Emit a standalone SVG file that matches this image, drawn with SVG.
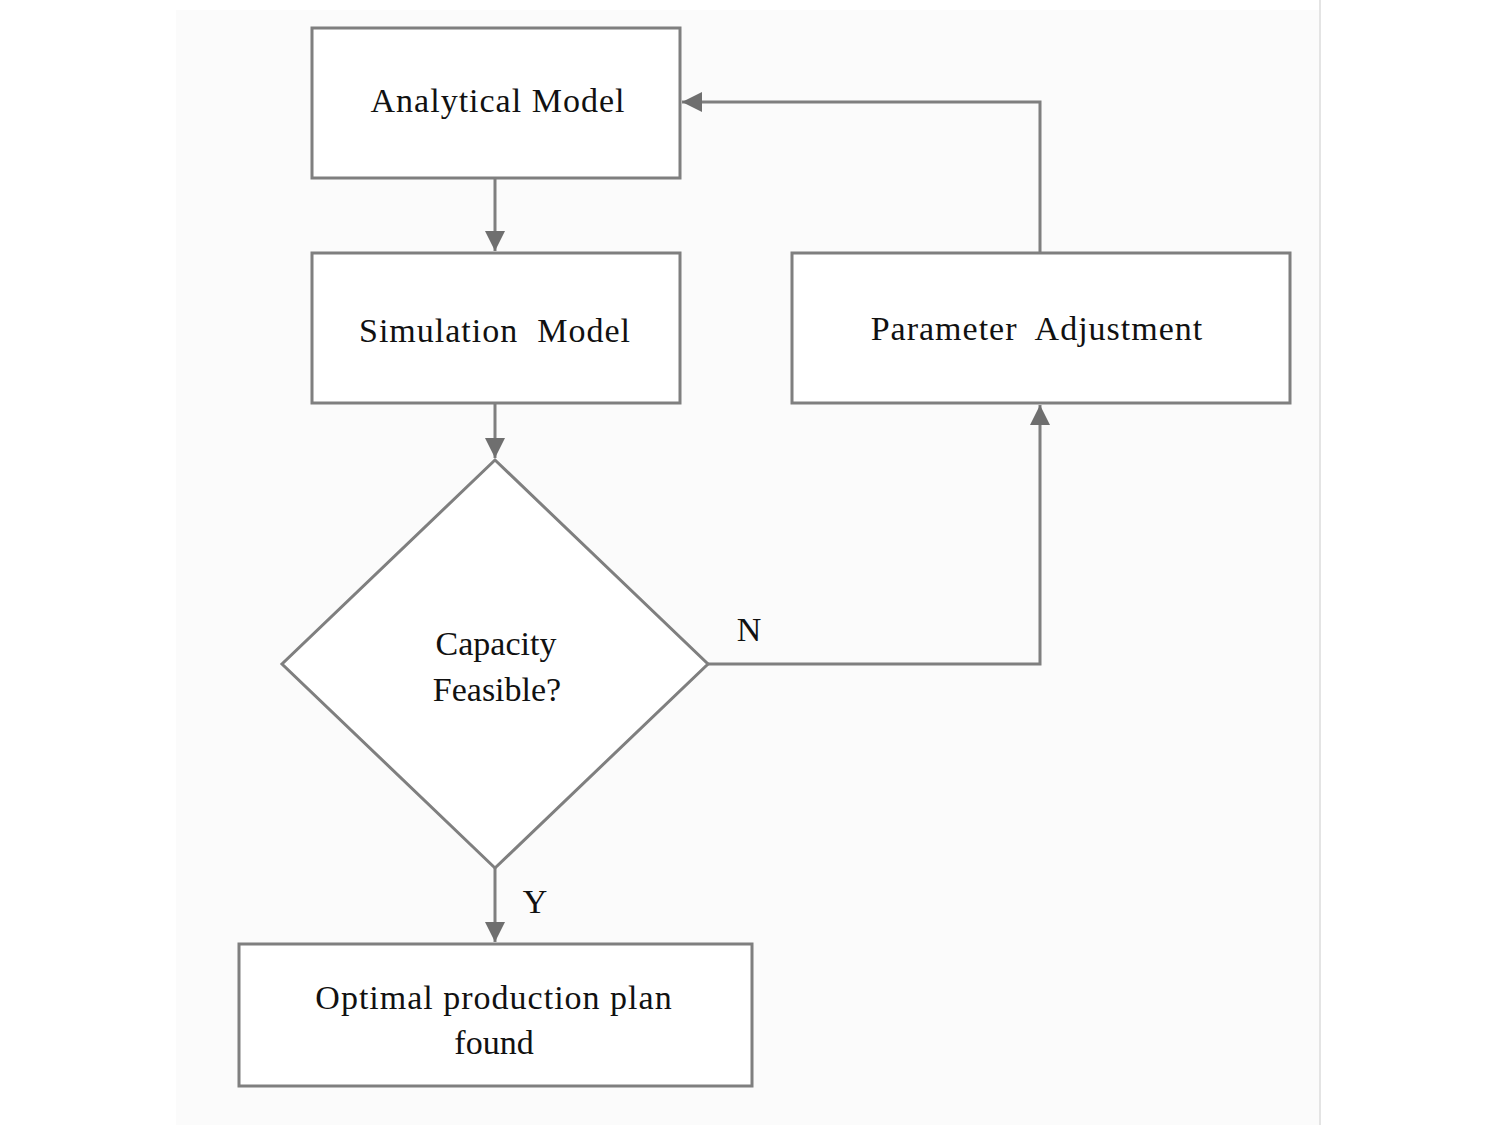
<svg xmlns="http://www.w3.org/2000/svg" width="1500" height="1125" viewBox="0 0 1500 1125">
<defs>
<style>
.box{fill:#ffffff;stroke:#7f7f7f;stroke-width:3}
.lbl{font-family:"Liberation Serif","Times New Roman",serif;font-size:34px;fill:#111;text-anchor:middle}
.con{fill:none;stroke:#7f7f7f;stroke-width:3}
</style>
<marker id="ah" viewBox="0 0 20 20" refX="20" refY="10" markerWidth="20" markerHeight="20" markerUnits="userSpaceOnUse" orient="auto">
<path d="M0,0 L20,10 L0,20 Z" fill="#6f6f6f"/>
</marker>
</defs>
<rect x="0" y="0" width="1500" height="1125" fill="#ffffff"/>
<rect x="176" y="10" width="1144" height="1115" fill="#fbfbfb"/>
<line x1="1320" y1="0" x2="1320" y2="1125" stroke="#e4e4e4" stroke-width="2"/>
<g id="connectors">
<line class="con" x1="495" y1="178" x2="495" y2="251" marker-end="url(#ah)"/>
<line class="con" x1="495" y1="403" x2="495" y2="458" marker-end="url(#ah)"/>
<line class="con" x1="495" y1="868" x2="495" y2="942" marker-end="url(#ah)"/>
<polyline class="con" points="708,664 1040,664 1040,405" marker-end="url(#ah)"/>
<polyline class="con" points="1040,253 1040,102 682,102" marker-end="url(#ah)"/>
<text class="lbl" x="749" y="641">N</text>
<text class="lbl" x="535" y="913">Y</text>
</g>
<g id="analytical">
<rect class="box" x="312" y="28" width="368" height="150"/>
<text class="lbl" x="498" y="112" letter-spacing="1">Analytical Model</text>
</g>
<g id="simulation">
<rect class="box" x="312" y="253" width="368" height="150"/>
<text class="lbl" x="495" y="342" letter-spacing="1" xml:space="preserve">Simulation  Model</text>
</g>
<g id="parameter">
<rect class="box" x="792" y="253" width="498" height="150"/>
<text class="lbl" x="1037" y="340" letter-spacing="1" xml:space="preserve">Parameter  Adjustment</text>
</g>
<g id="decision">
<polygon class="box" points="495,460 708,664 495,868 282,664"/>
<text class="lbl" x="496" y="655">Capacity</text>
<text class="lbl" x="497" y="701">Feasible?</text>
</g>
<g id="optimal">
<rect class="box" x="239" y="944" width="513" height="142"/>
<text class="lbl" x="494" y="1009" letter-spacing="1">Optimal production plan</text>
<text class="lbl" x="494" y="1054">found</text>
</g>
</svg>
